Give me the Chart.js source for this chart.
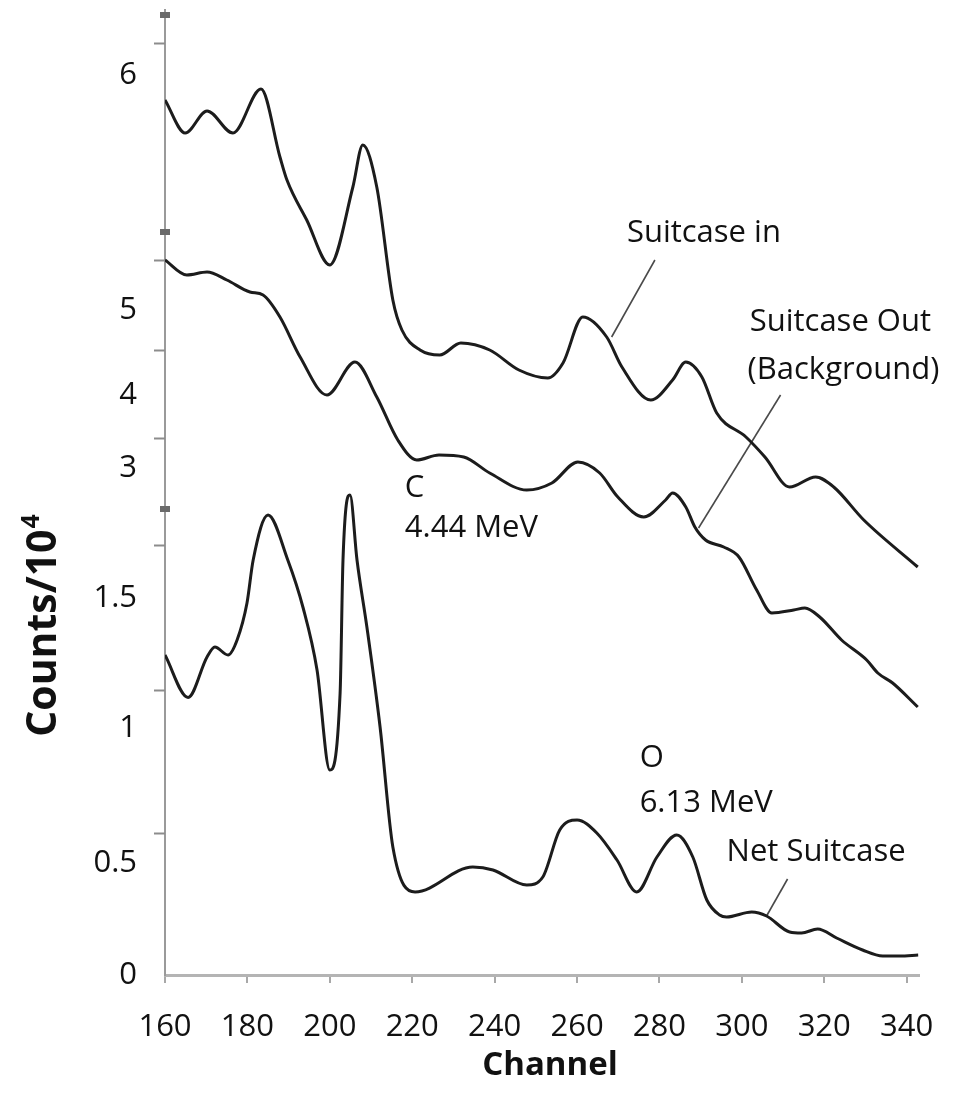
<!DOCTYPE html>
<html>
<head>
<meta charset="utf-8">
<script src="https://cdn.jsdelivr.net/npm/chart.js@4.4.1/dist/chart.umd.min.js"></script>
<style>
  html, body { margin: 0; padding: 0; background: #fff; }
  canvas { display: block; }
</style>
</head>
<body>
<canvas id="spectrum" width="956" height="1099"></canvas>
<script>
'use strict';

// Channel axis ticks
const CHANNEL_TICKS = [160, 180, 200, 220, 240, 260, 280, 300, 320, 340];

// The figure stacks the spectra on one broken vertical axis; values below are
// in the plotted height units of that axis (Counts/10^4 for the net spectrum).
const Y_TICK_VALUES = [0, 0.448, 0.988, 1.508, 2.028, 2.32, 2.66, 3.6];
const Y_TICK_LABELS = ['0', '0.5', '1', '1.5', '3', '4', '5', '6'];
const AXIS_MARKS = [0.568, 1.14, 1.72, 2.148, 2.5, 2.86, 3.728];
const AXIS_BREAKS = [1.864, 2.972, 3.84];

// Suitcase in
const inChannels = [160, 164.9, 170.2, 176.5, 183.3, 187.9, 189.6, 194.4, 200.0, 205.6, 208.0, 211.4, 215.3, 217.5,
    221.9, 226.7, 231.8, 238.8, 245.9, 252.9, 256.6, 261.4, 267.2, 270.9, 277.9, 283.2, 286.4, 290.3, 293.9,
    301.0, 305.6, 311.6, 317.9, 322.3, 329.6, 342.7];
const inCounts = [3.50, 3.368, 3.456, 3.368, 3.544, 3.272, 3.18, 3.02, 2.84, 3.152, 3.32, 3.152, 2.70, 2.58,
    2.50, 2.48, 2.528, 2.50, 2.42, 2.388, 2.448, 2.632, 2.552, 2.432, 2.30, 2.38, 2.452, 2.392, 2.248,
    2.152, 2.072, 1.952, 1.992, 1.952, 1.82, 1.632];

// Suitcase out (background)
const outChannels = [160, 165.3, 170.2, 175.0, 180.6, 183.8, 187.9, 192.8, 199.3, 206.1, 211.4, 216.5, 221.1, 226.5,
    232.5, 238.8, 247.8, 253.9, 260.2, 265.5, 269.9, 276.2, 281.5, 283.2, 286.4, 288.6, 291.2, 295.6, 299.3,
    303.6, 307.3, 312.6, 315.3, 318.9, 324.2, 330.3, 333.0, 336.6, 342.7];
const outCounts = [2.86, 2.80, 2.812, 2.78, 2.732, 2.72, 2.632, 2.472, 2.32, 2.452, 2.312, 2.14, 2.06, 2.08,
    2.072, 2.008, 1.94, 1.968, 2.052, 2.008, 1.912, 1.832, 1.90, 1.928, 1.872, 1.792, 1.74, 1.712, 1.672,
    1.54, 1.448, 1.46, 1.468, 1.432, 1.34, 1.26, 1.208, 1.168, 1.072];

// Net suitcase
const netChannels = [160, 165.6, 170.2, 172.1, 175.3, 177.5, 179.9, 181.4, 185.0, 189.8, 193.5, 196.9, 200.0,
    202.5, 203.2, 204.9, 206.6, 209.0, 212.2, 215.3, 220.7, 234.7, 239.6, 247.8, 251.7, 255.8, 260.0, 264.8,
    269.7, 274.5, 279.4, 284.2, 288.1, 291.5, 294.6, 296.3, 302.4, 306.0, 311.6, 314.5, 318.4, 323.0, 329.3,
    334.2, 338.3, 342.8];
const netCounts = [1.28, 1.11, 1.272, 1.312, 1.28, 1.34, 1.488, 1.66, 1.84, 1.66, 1.47, 1.22, 0.82,
    1.128, 1.66, 1.92, 1.66, 1.392, 0.992, 0.512, 0.332, 0.432, 0.42, 0.36, 0.392, 0.58, 0.62, 0.568,
    0.46, 0.332, 0.472, 0.56, 0.472, 0.30, 0.24, 0.232, 0.252, 0.236, 0.172, 0.168, 0.184, 0.148, 0.10,
    0.076, 0.076, 0.08];

// Leader lines from the labels to the curves
const inLeaderCh = [268.4, 278.9];
const inLeaderVal = [2.552, 2.86];
const outLeaderCh = [289.5, 309.4];
const outLeaderVal = [1.788, 2.32];
const netLeaderCh = [306.0, 311.1];
const netLeaderVal = [0.236, 0.384];

// Labels inside the plot
const NOTE_TEXT = ['Suitcase in', 'Suitcase Out', '(Background)', 'C', '4.44 MeV', 'O', '6.13 MeV', 'Net Suitcase'];
const NOTE_CH = [272.1, 301.9, 301.4, 218.2, 218.2, 275.2, 275.2, 296.3];
const NOTE_VAL = [2.968, 2.612, 2.42, 1.948, 1.788, 0.868, 0.688, 0.492];

const zip = (xs, ys) => xs.map((x, i) => ({ x: x, y: ys[i] }));

function curve(label, xs, ys) {
    return {
        label: label,
        data: zip(xs, ys),
        borderColor: '#1c1c1c',
        borderWidth: 3,
        pointRadius: 0,
        cubicInterpolationMode: 'monotone',
        fill: false
    };
}

function leader(label, xs, ys) {
    return {
        label: label,
        data: zip(xs, ys),
        borderColor: '#4a4a4a',
        borderWidth: 1.6,
        pointRadius: 0,
        tension: 0,
        fill: false
    };
}

const TICK_FONT = { family: '"Open Sans", sans-serif', size: 31 };

const decor = {
    id: 'decor',
    afterDraw(chart) {
        const { ctx, chartArea, scales: { x, y } } = chart;
        const ax = chartArea.left;
        ctx.save();

        // small marks along the broken axis
        ctx.strokeStyle = '#8c8c8c';
        ctx.lineWidth = 2;
        AXIS_MARKS.forEach(v => {
            const py = Math.round(y.getPixelForValue(v)) + 0.5;
            ctx.beginPath();
            ctx.moveTo(ax - 11, py);
            ctx.lineTo(ax, py);
            ctx.stroke();
        });
        ctx.fillStyle = '#6a6a6a';
        AXIS_BREAKS.forEach(v => {
            const py = y.getPixelForValue(v);
            ctx.fillRect(ax - 5, py - 3, 10, 6);
        });

        // notes
        ctx.fillStyle = '#111';
        ctx.font = '31px "Open Sans", sans-serif';
        ctx.textAlign = 'left';
        ctx.textBaseline = 'middle';
        NOTE_TEXT.forEach((t, i) => {
            ctx.fillText(t, x.getPixelForValue(NOTE_CH[i]), y.getPixelForValue(NOTE_VAL[i]));
        });

        // x title
        ctx.font = 'bold 33px "Open Sans", sans-serif';
        ctx.textAlign = 'center';
        ctx.fillText('Channel', (chartArea.left + chartArea.right) / 2 + 8, 1066);

        // y title with superscript
        const main = 'Counts/10';
        const sup = '4';
        ctx.translate(44, 626);
        ctx.rotate(-Math.PI / 2);
        ctx.font = 'bold 41px "Open Sans", sans-serif';
        const wMain = ctx.measureText(main).width;
        ctx.font = 'bold 25px "Open Sans", sans-serif';
        const wSup = ctx.measureText(sup).width;
        const start = -(wMain + wSup) / 2;
        ctx.textAlign = 'left';
        ctx.font = 'bold 41px "Open Sans", sans-serif';
        ctx.fillText(main, start, 0);
        ctx.font = 'bold 25px "Open Sans", sans-serif';
        ctx.fillText(sup, start + wMain + 1, -12);

        ctx.restore();
    }
};

new Chart(document.getElementById('spectrum'), {
    type: 'line',
    data: {
        datasets: [
            curve('Suitcase in', inChannels, inCounts),
            curve('Suitcase Out (Background)', outChannels, outCounts),
            curve('Net Suitcase', netChannels, netCounts),
            leader('Suitcase in label', inLeaderCh, inLeaderVal),
            leader('Suitcase Out label', outLeaderCh, outLeaderVal),
            leader('Net Suitcase label', netLeaderCh, netLeaderVal)
        ]
    },
    options: {
        responsive: false,
        animation: false,
        devicePixelRatio: 1,
        layout: { padding: { top: 10, right: 37, bottom: 0, left: 0 } },
        plugins: { legend: { display: false }, tooltip: { enabled: false } },
        scales: {
            x: {
                type: 'linear',
                min: 160,
                max: 343,
                afterBuildTicks: axis => { axis.ticks = CHANNEL_TICKS.map(v => ({ value: v })); },
                afterFit: axis => {
                    axis.height = 124;
                    axis.paddingLeft = 0;
                    axis.paddingRight = 0;
                },
                ticks: { font: TICK_FONT, color: '#111', padding: 26, autoSkip: false, maxRotation: 0 },
                grid: { drawOnChartArea: false, drawTicks: true, tickLength: 8, color: '#a8a8a8', lineWidth: 2 },
                border: { display: true, color: '#b4b4b4', width: 3 }
            },
            y: {
                type: 'linear',
                min: 0,
                max: 3.86,
                afterBuildTicks: axis => { axis.ticks = Y_TICK_VALUES.map(v => ({ value: v })); },
                afterFit: axis => {
                    axis.width = 165;
                    axis.paddingTop = 0;
                    axis.paddingBottom = 0;
                },
                ticks: {
                    font: TICK_FONT,
                    color: '#111',
                    padding: 28,
                    autoSkip: false,
                    callback: (value, index) => Y_TICK_LABELS[index]
                },
                grid: { drawOnChartArea: false, drawTicks: false },
                border: { display: true, color: '#9a9a9a', width: 2 }
            }
        }
    },
    plugins: [decor]
});
</script>
</body>
</html>
